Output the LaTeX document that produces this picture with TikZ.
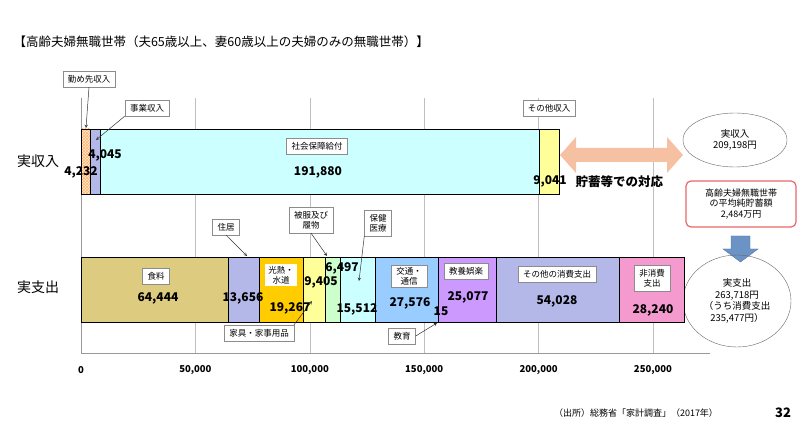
\documentclass[tikz,border=0pt]{standalone}
\usepackage{fontspec}
\setmainfont{Noto Sans CJK JP}
\usepackage{tikz}
\usetikzlibrary{positioning}
\usetikzlibrary{shapes.geometric}
\usetikzlibrary{patterns}
\definecolor{cyanbar}{HTML}{CCFFFF}
\definecolor{yelbar}{HTML}{FFFF99}
\definecolor{lavbar}{HTML}{B4B8E8}
\definecolor{foodbar}{HTML}{DDCB80}
\definecolor{goldbar}{HTML}{FFCC00}
\definecolor{greenbar}{HTML}{CCFFCC}
\definecolor{bluebar}{HTML}{99CCFF}
\definecolor{purpbar}{HTML}{CC99FF}
\definecolor{pinkbar}{HTML}{F49ACF}
\definecolor{peach}{HTML}{F6C0A2}
\definecolor{downblue}{HTML}{6B93C6}
\definecolor{redline}{HTML}{E8676B}
\begin{document}
\begin{tikzpicture}
  [
    x=1pt, y=-1pt,
    seg/.style={draw=black, line width=0.8pt},
    lbl/.style={
       draw=black!45,
       fill=white,
       inner xsep=5pt,
       inner ysep=4pt,
       font=\fontsize{8.5}{10}\selectfont,
       align=center
    },
    val/.style={
       font=\fontsize{12}{13}\selectfont\bfseries,
       inner sep=0pt
    },
    ptr/.style={
       draw=black!80,
       ->, >=stealth,
       line width=0.5pt
    }
  ]
  \useasboundingbox (0,0) rectangle (800,430);

  % title
  \node (title) at (10,42) [anchor=west, font=\fontsize{12.5}{13}\selectfont]
     {【高齢夫婦無職世帯（夫65歳以上、妻60歳以上の夫婦のみの無職世帯）】};

  % grid and axis
  \foreach \gx/\glab in {81/0, 195.4/{50,000}, 309.8/{100,000}, 424.2/{150,000}, 538.6/{200,000}, 653/{250,000}} {
    \draw [black!25, line width=0.6pt] (\gx,98) -- (\gx,353);
    \node at (\gx,370) [val, font=\fontsize{9.5}{10}\selectfont\bfseries] {\glab};
  }
  \draw [black!40] (81,98) -- (81,353) -- (710,353);

  % row labels
  \node (rin)  at (38,161) [font=\fontsize{14}{15}\selectfont] {実収入};
  \node (rout) at (38,287) [font=\fontsize{14}{15}\selectfont] {実支出};

  % income bar
  \fill [orange!15] (81,129) rectangle (90.7,194);
  \fill [pattern=crosshatch, pattern color=orange!60] (81,129) rectangle (90.7,194);
  \draw [seg] (81,129) rectangle (90.7,194);
  \draw [seg, fill=lavbar]  (90.7,129) rectangle (99.9,194);
  \draw [seg, fill=cyanbar] (99.9,129) rectangle (538.9,194);
  \draw [seg, fill=yelbar]  (538.9,129) rectangle (559.6,194);

  \node (work)  at (89,79)   [lbl] {勤め先収入};
  \node (biz)   at (147,108) [lbl] {事業収入};
  \node (soc)   at (317,146) [lbl] {社会保障給付};
  \node (oth)   at (549,108) [lbl] {その他収入};
  \coordinate (workp) at (86,128);
  \coordinate (bizp)  at (96,140);
  \draw [ptr] (work.south) -- (workp);
  \draw [ptr] (biz.south west) -- (bizp);

  \node (v4045)  at (105,155) [val] {4,045};
  \node (v4232)  at (81,172)  [val] {4,232};
  \node (v191)   at (318,172) [val] {191,880};
  \node (v9041)  at (550,181) [val] {9,041};

  % savings arrow
  \draw [fill=peach, draw=none]
     (560,155) -- (576,137) -- (576,148) -- (667,148) -- (667,137) -- (683,155)
     -- (667,173) -- (667,162) -- (576,162) -- (576,173) -- cycle;
  \node (save) at (572,182) [anchor=west, font=\fontsize{12.5}{13}\selectfont\bfseries] {貯蓄等での対応};

  % right side
  \node (ein) at (735,140) [ellipse, draw=black!60, minimum width=104pt, minimum height=54pt,
     align=center, font=\fontsize{9.5}{11}\selectfont] {実収入\\209,198円};
  \node (sav) at (741,204) [draw=redline, line width=1.2pt, rounded corners=5pt, fill=white,
     minimum width=110pt, minimum height=46pt, align=center, font=\fontsize{9}{10.5}\selectfont]
     {高齢夫婦無職世帯\\の平均純貯蓄額\\2,484万円};
  \draw [fill=downblue, draw=downblue!80!black]
     (731,236) -- (750,236) -- (750,249) -- (758,249) -- (740.5,262) -- (723,249) -- (731,249) -- cycle;
  \node (eout) at (737,301) [ellipse, draw=black!60, minimum width=108pt, minimum height=92pt,
     align=center, font=\fontsize{9.5}{11.5}\selectfont] {実支出\\263,718円\\（うち消費支出\\235,477円）};

  % expenditure bar
  \draw [seg, fill=foodbar]  (81,257)    rectangle (228.4,322);
  \draw [seg, fill=lavbar]   (228.4,257) rectangle (259.7,322);
  \draw [seg, fill=goldbar]  (259.7,257) rectangle (303.8,322);
  \draw [seg, fill=yelbar]   (303.8,257) rectangle (325.3,322);
  \draw [seg, fill=greenbar] (325.3,257) rectangle (340.2,322);
  \draw [seg, fill=cyanbar]  (340.2,257) rectangle (375.7,322);
  \draw [seg, fill=bluebar]  (375.7,257) rectangle (438.8,322);
  \draw [seg, fill=purpbar]  (438.8,257) rectangle (496.2,322);
  \draw [seg, fill=lavbar]   (496.2,257) rectangle (619.8,322);
  \draw [seg, fill=pinkbar]  (619.8,257) rectangle (684.4,322);

  \node (food)  at (156,276) [lbl] {食料};
  \node (house) at (226,227) [lbl] {住居};
  \node (util)  at (281,275) [lbl, draw=none, inner xsep=3pt, inner ysep=2pt] {光熱・\\水道};
  \node (furn)  at (259,333) [lbl] {家具・家事用品};
  \node (cloth) at (311,220) [lbl] {被服及び\\履物};
  \node (heal)  at (378,223) [lbl] {保健\\医療};
  \node (trans) at (409,276) [lbl, inner ysep=2pt] {交通・\\通信};
  \node (edu)   at (402,336) [lbl] {教育};
  \node (ent)   at (466,271) [lbl] {教養娯楽};
  \node (cons)  at (557,274) [lbl] {その他の消費支出};
  \node (tax)   at (652,278) [lbl] {非消費\\支出};

  \coordinate (housep) at (247,256);
  \coordinate (furnp)  at (312,301);
  \coordinate (clothp) at (327,256);
  \coordinate (healp)  at (359,281);
  \coordinate (edup)   at (437,323);
  \draw [ptr] (house.south) -- (housep);
  \draw [ptr] (furn.north east) -- (furnp);
  \draw [ptr] (cloth.south) -- (clothp);
  \draw [ptr] (heal.south west) -- (healp);
  \draw [ptr] (edu.east) -- (edup);

  \node (v644)  at (158,298) [val] {64,444};
  \node (v136)  at (243,298) [val] {13,656};
  \node (v192)  at (290,308) [val] {19,267};
  \node (v94)   at (321,282) [val] {9,405};
  \node (v64)   at (342,268) [val] {6,497};
  \node (v155)  at (357,309) [val] {15,512};
  \node (v275)  at (410,303) [val] {27,576};
  \node (v15)   at (441,311) [val] {15};
  \node (v250)  at (468,297) [val] {25,077};
  \node (v540)  at (557,301) [val] {54,028};
  \node (v282)  at (653,310) [val] {28,240};

  % footer
  \node (src) at (636,413) [font=\fontsize{9}{10}\selectfont] {（出所）総務省「家計調査」（2017年）};
  \node (pg)  at (783,413) [font=\fontsize{13}{14}\selectfont\bfseries] {32};
\end{tikzpicture}
\end{document}
